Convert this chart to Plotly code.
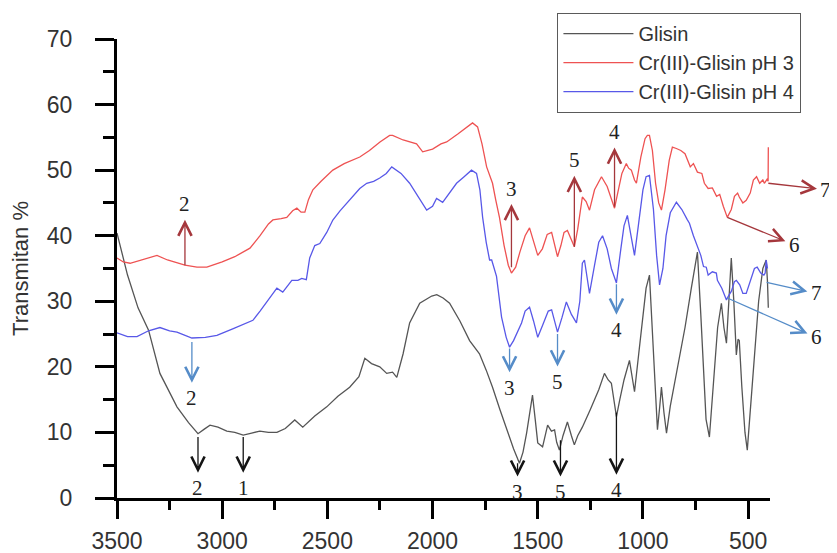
import plotly.graph_objects as go

# ---------------- data (wavenumber cm-1, transmittance %) ----------------
gl_x = [3500, 3450, 3400, 3350, 3296, 3250, 3215, 3160, 3115, 3085, 3058, 3020, 2978, 2940, 2900,
        2860, 2821, 2780, 2740, 2700, 2655, 2617, 2560, 2503, 2450, 2394, 2350, 2322, 2290, 2251,
        2218, 2190, 2170, 2140, 2109, 2061, 2030, 2004, 1980, 1950, 1919, 1870, 1824, 1777, 1745,
        1715, 1680, 1648, 1615, 1587, 1570, 1553, 1538, 1525, 1512, 1500, 1477, 1453, 1435, 1420,
        1410, 1397, 1380, 1359, 1340, 1326, 1310, 1288, 1250, 1210, 1183, 1165, 1150, 1135, 1126,
        1110, 1090, 1064, 1050, 1040, 1020, 1000, 985, 969, 955, 940, 931, 920, 912, 900,
        888, 870, 840, 800, 770, 741, 725, 710, 700, 684, 665, 645, 627, 615, 603,
        592, 580, 568, 556, 548, 542, 530, 515, 504, 490, 470, 450, 430, 414, 408, 404]
gl_y = [40.4, 34, 29, 25.6, 19, 16, 13.9, 11.5, 9.8, 10.5, 11.1, 10.8, 10.2, 10.0, 9.6,
        9.9, 10.2, 10.0, 10.0, 10.6, 11.9, 10.8, 12.5, 13.9, 15.5, 16.9, 18.5, 21.3, 20.5, 20,
        19, 19.2, 18.4, 22, 26.7, 29.7, 30.3, 30.8, 31, 30.5, 29.7, 27, 24, 22, 19.5,
        16.9, 13.5, 10.4, 7.5, 5.3, 7, 9.9, 13, 15.7, 12, 8.4, 7.8, 11.1, 10.2, 10.4,
        8.5, 7.3, 9.5, 11.6, 9.5, 8.1, 9.5, 10.8, 13.5, 16.5, 19, 18, 17.5, 14, 12.4,
        15, 18, 21, 18, 16.2, 22, 28, 32, 34, 25, 14, 10.4, 14, 16.9, 13,
        9.9, 14, 19, 26, 32, 37.5, 28, 18, 12, 9.3, 17, 26, 29.7, 26, 23.6,
        30, 36.6, 30, 21.8, 24.2, 24, 17, 10, 7.3, 13, 22, 30, 35, 36.3, 33, 29]

ph3_x = [3500, 3470, 3438, 3380, 3310, 3260, 3177, 3120, 3073, 3000, 2940, 2868, 2820, 2780, 2759,
         2720, 2693, 2665, 2645, 2625, 2607, 2590, 2569, 2530, 2474, 2420, 2380, 2346, 2300, 2250,
         2204, 2190, 2140, 2076, 2047, 2000, 1960, 1933, 1880, 1840, 1810, 1786, 1765, 1743, 1715,
         1700, 1682, 1660, 1640, 1625, 1605, 1585, 1560, 1539, 1520, 1500, 1478, 1455, 1434, 1418,
         1406, 1390, 1375, 1359, 1340, 1326, 1310, 1288, 1270, 1254, 1230, 1197, 1170, 1150, 1135,
         1120, 1100, 1079, 1068, 1055, 1040, 1031, 1010, 990, 979, 969, 955, 940, 925, 912,
         895, 875, 860, 841, 820, 800, 775, 760, 741, 720, 708, 690, 670, 650, 635,
         618, 599, 580, 565, 550, 542, 525, 509, 490, 475, 460, 445, 430, 423, 410, 405, 404]
ph3_y = [36.6, 36.0, 35.8, 36.3, 37, 36.3, 35.5, 35.2, 35.2, 36.0, 36.8, 38.1, 40, 41.8, 42.4,
         42.6, 42.8, 43.8, 44.2, 43.6, 43.6, 45.5, 47, 48.3, 50, 51, 51.5, 52, 53, 54.3,
         55.3, 55.3, 54.6, 54, 52.8, 53.2, 54, 54.3, 55.5, 56.5, 57.2, 56.6, 54, 50.5, 48,
         45.5, 42.8, 38.5, 35.5, 34.3, 35.2, 37.5, 40, 41.2, 39, 37, 38, 40.2, 40.5, 38.5,
         36.8, 38.5, 40.5, 40.8, 39.5, 38.3, 41, 45.9, 45.2, 43.9, 47, 49, 47.5, 45.5, 44.2,
         46.5, 49.5, 51, 50.3, 50, 48.5, 48, 52, 54.8, 55.3, 55.3, 53, 48, 45, 43.9,
         47, 51.5, 53.5, 53.3, 53, 52.5, 50.5, 51, 49.7, 49.5, 48, 47.2, 47.3, 46, 46.3,
         44.5, 42.8, 44, 46, 46.5, 45.9, 45, 45.4, 46.5, 48.5, 49, 48, 48.5, 48, 48.6, 48.3, 53.5]

ph4_x = [3500, 3450, 3405, 3350, 3296, 3250, 3215, 3170, 3144, 3080, 3025, 2950, 2900, 2854, 2820,
         2774, 2740, 2712, 2669, 2640, 2622, 2600, 2584, 2560, 2536, 2503, 2474, 2440, 2394, 2346,
         2313, 2280, 2251, 2220, 2194, 2150, 2109, 2070, 2028, 2000, 1981, 1952, 1920, 1886, 1850,
         1815, 1791, 1775, 1762, 1745, 1729, 1719, 1696, 1672, 1650, 1634, 1615, 1595, 1577, 1560,
         1539, 1520, 1500, 1475, 1450, 1434, 1420, 1406, 1385, 1364, 1340, 1316, 1300, 1288, 1278,
         1265, 1254, 1230, 1210, 1192, 1170, 1150, 1126, 1105, 1090, 1074, 1055, 1040, 1020, 1000,
         985, 969, 950, 935, 921, 905, 890, 870, 841, 815, 790, 779, 760, 741, 725,
         712, 699, 690, 670, 651, 646, 625, 603, 599, 580, 565, 556, 540, 525, 509,
         490, 470, 457, 440, 425, 419, 414, 408]
ph4_y = [25.2, 24.6, 24.6, 25.5, 26, 25.5, 25.3, 24.8, 24.4, 24.5, 24.8, 25.8, 26.5, 27.1, 28.5,
         30.6, 32, 31.4, 33.2, 33.2, 33.5, 33.3, 36.6, 38.5, 38.8, 40.5, 42.4, 43.8, 45.4, 47.2,
         48, 48.3, 48.8, 49.5, 50.5, 49.5, 48, 46, 43.9, 44.5, 45.7, 45.1, 46.5, 48, 49,
         50, 49.5, 47, 42.8, 39, 36.3, 36.3, 33.8, 27.6, 24.5, 23, 24, 25.5, 26.7, 28.5,
         29.1, 27, 24.5, 26.5, 28.5, 28.7, 27, 25.3, 27.5, 29.9, 28, 26.7, 30, 35.8, 36.3,
         33.5, 31.2, 35.5, 39, 40, 38, 35, 32.8, 38, 41.5, 43.1, 40, 37, 42, 47,
         49, 49.2, 44, 37, 32.5, 35, 40, 43.5, 45.1, 44, 42.5, 41.9, 40, 38.3, 37,
         35.3, 35.2, 34, 34.5, 34.3, 33.2, 32, 30.2, 30.5, 31.5, 33, 33.2, 32.5, 31.2, 31.2,
         33, 35, 35.2, 34.3, 34, 34.3, 36.3, 35]

series_names = ["Glisin", "Cr(III)-Glisin pH 3", "Cr(III)-Glisin pH 4"]

# band labels: (label, point on curve x, y, label position x, y)
red_marks = [("2", 3177, 35.5, 3177, 44.8), ("3", 1625, 35.2, 1625, 47.2),
             ("5", 1326, 38.3, 1326, 51.5), ("4", 1135, 44.4, 1135, 55.8),
             ("6", 599, 42.8, 281, 38.6), ("7", 404, 48.0, 130, 47.0)]
blue_marks = [("2", 3144, 23.8, 3144, 15.2), ("3", 1634, 22.8, 1634, 16.8),
              ("5", 1406, 25.0, 1406, 17.7), ("4", 1126, 32.6, 1126, 25.6),
              ("6", 599, 30.5, 176, 24.5), ("7", 412, 32.9, 176, 31.2)]
black_marks = [("2", 3115, 9.3, 3115, 1.5), ("1", 2900, 9.3, 2900, 1.5),
               ("3", 1596, 5.3, 1596, 0.9), ("5", 1392, 8.8, 1392, 0.9),
               ("4", 1126, 13.0, 1126, 1.2)]

x_ticks = [3500, 3000, 2500, 2000, 1500, 1000, 500]
y_ticks = [0, 10, 20, 30, 40, 50, 60, 70]

# ---------------- figure ----------------
fig = go.Figure()
line_cols = ["rgb(85,85,85)", "rgb(238,82,82)", "rgb(88,88,232)"]
for xs, ys, nm, c in zip([gl_x, ph3_x, ph4_x], [gl_y, ph3_y, ph4_y], series_names, line_cols):
    fig.add_trace(go.Scatter(x=xs, y=ys, mode="lines", name=nm,
                             line=dict(color=c, width=1.3)))

def add_marks(marks, col):
    for lab, px, py, tx, ty in marks:
        fig.add_annotation(x=px, y=py, xref="x", yref="y", ax=tx, ay=ty,
                           axref="x", ayref="y", text=lab, showarrow=True,
                           arrowside="start", startarrowhead=5, startarrowsize=2,
                           arrowwidth=1.3, arrowcolor=col, borderpad=1,
                           startstandoff=2,
                           font=dict(family="Liberation Serif", size=21, color="#222"))

add_marks(red_marks, "rgb(165,55,60)")
add_marks(blue_marks, "rgb(85,140,200)")
add_marks(black_marks, "rgb(20,20,20)")

axis_font = dict(family="Liberation Sans", size=23, color="#333")
fig.update_layout(
    width=829, height=545,
    margin=dict(l=109, r=67, t=31, b=55, autoexpand=False),
    plot_bgcolor="white", paper_bgcolor="white",
    font=dict(family="Liberation Sans", color="#333"),
    legend=dict(x=0.674, y=1.057, xanchor="left", yanchor="top",
                bordercolor="rgb(90,90,90)", borderwidth=1.3,
                font=dict(family="Liberation Sans", size=20, color="#333"),
                itemwidth=70, tracegroupgap=0, bgcolor="white"),
    xaxis=dict(range=[3500, 396], showgrid=False, zeroline=False, automargin=False,
               showline=True, linecolor="black", linewidth=3,
               tickmode="array", tickvals=x_ticks,
               ticks="outside", ticklen=18, tickwidth=3, tickcolor="black",
               tickfont=axis_font, ticklabelstandoff=2,
               minor=dict(ticks="outside", ticklen=9, tickwidth=3, tickcolor="black",
                          dtick=250, tick0=0)),
    yaxis=dict(range=[0, 70], showgrid=False, zeroline=False, automargin=False,
               showline=True, linecolor="black", linewidth=3,
               tickmode="array", tickvals=y_ticks,
               ticks="outside", ticklen=19, tickwidth=3, tickcolor="black",
               tickfont=axis_font, ticklabelstandoff=18,
               title=dict(text="Transmitan %", font=dict(family="Liberation Sans", size=22, color="#333"),
                          standoff=13),
               minor=dict(ticks="outside", ticklen=11, tickwidth=3, tickcolor="black",
                          dtick=5, tick0=0)),
)

fig.write_html("out.html")
